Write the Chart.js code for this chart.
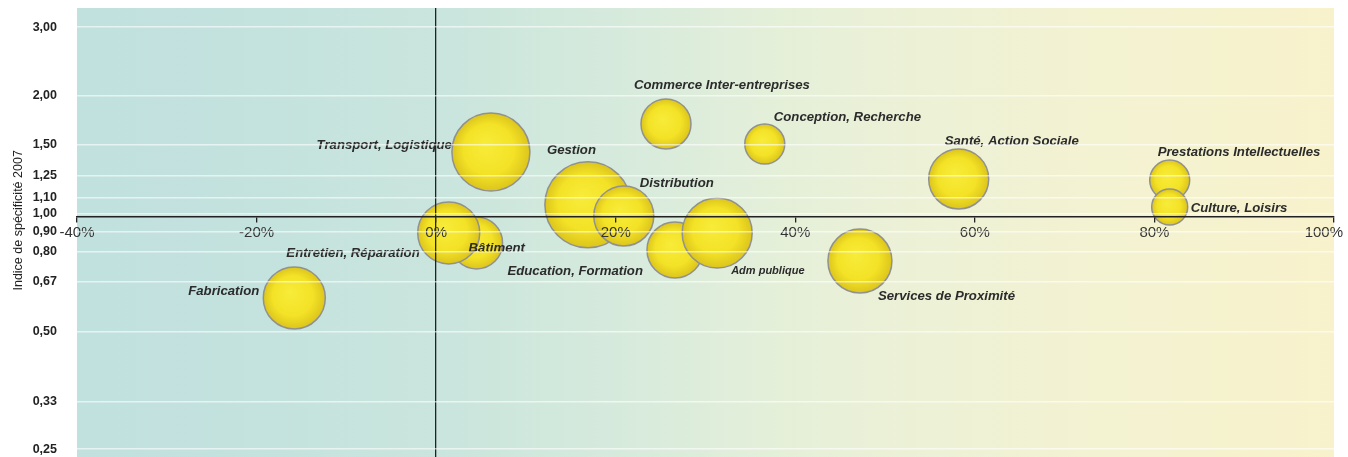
<!DOCTYPE html>
<html>
<head>
<meta charset="utf-8">
<script src="https://cdn.jsdelivr.net/npm/chart.js@4/dist/chart.umd.min.js"></script>
<style>
  html, body { margin: 0; padding: 0; background: #ffffff; }
  #wrap { position: relative; width: 1348px; height: 457px; }
</style>
</head>
<body>
<div id="wrap"><canvas id="c"></canvas></div>
<script>
// ---- data ----
const sectors = [
  "Bâtiment", "Entretien, Réparation", "Fabrication", "Transport, Logistique",
  "Gestion", "Distribution", "Education, Formation", "Adm publique",
  "Commerce Inter-entreprises", "Conception, Recherche", "Services de Proximité",
  "Santé, Action Sociale", "Prestations Intellectuelles", "Culture, Loisirs"
];
const evolution = [4.5, 1.4, -15.8, 6.1, 16.9, 20.9, 26.6, 31.3, 25.6, 36.6, 47.2, 58.2, 81.7, 81.7];
const specificity = [0.842, 0.893, 0.609, 1.438, 1.054, 0.987, 0.808, 0.893, 1.696, 1.507, 0.757, 1.227, 1.219, 1.040];
const bubbleSize = [26, 31, 31, 39, 43, 30, 28, 35, 25, 20, 32, 30, 20, 18];
const yTickValues = [0.25, 0.33, 0.5, 0.67, 0.8, 0.9, 1, 1.1, 1.25, 1.5, 2, 3];
const xTickValues = [-40, -20, 0, 20, 40, 60, 80, 100];
const yTitle = 'Indice de spécificité 2007';

// ---- label placement (relative to bubble centre) ----
const labelPlacement = [
  {dx: -8, dy: 5, align: 'left'},
  {dx: -29, dy: 20, align: 'right'},
  {dx: -35, dy: -7, align: 'right'},
  {dx: -39, dy: -7, align: 'right'},
  {dx: -41, dy: -54, align: 'left'},
  {dx: 16, dy: -33, align: 'left'},
  {dx: -32, dy: 21, align: 'right'},
  {dx: 14, dy: 38, align: 'left', small: true},
  {dx: -32, dy: -39, align: 'left'},
  {dx: 9, dy: -27, align: 'left'},
  {dx: 18, dy: 35, align: 'left'},
  {dx: -14, dy: -38, align: 'left'},
  {dx: -12, dy: -28, align: 'left'},
  {dx: 21, dy: 1, align: 'left'}
];

const SANS = '"Liberation Sans", Arial, sans-serif';

const bgPlugin = {
  id: 'bg',
  beforeDraw(chart) {
    const {ctx, chartArea: a} = chart;
    const g = ctx.createLinearGradient(a.left, 0, a.right, 0);
    g.addColorStop(0, '#c1e1de');
    g.addColorStop(0.12, '#c3e2de');
    g.addColorStop(0.3, '#cae5dd');
    g.addColorStop(0.45, '#d8ebdc');
    g.addColorStop(0.55, '#e4efd9');
    g.addColorStop(0.66, '#ecf1d6');
    g.addColorStop(0.8, '#f3f2d2');
    g.addColorStop(1, '#f8f2cc');
    ctx.save();
    ctx.fillStyle = g;
    ctx.fillRect(a.left, a.top, a.right - a.left, a.bottom - a.top);
    ctx.restore();
    // keep the last x tick label inside the canvas, as in the original
    const xs = chart.scales.x;
    const items = xs.getLabelItems(a);
    const last = items[items.length - 1];
    if (last && last.options && !last._shifted) {
      last.options.textAlign = 'right';
      last.options.translation[0] += 9;
      last._shifted = true;
    }
  }
};

const labelPlugin = {
  id: 'bubbleLabels',
  afterDatasetsDraw(chart) {
    const ctx = chart.ctx;
    const meta = chart.getDatasetMeta(0);
    ctx.save();
    ctx.fillStyle = '#2b2b2b';
    ctx.textBaseline = 'middle';
    meta.data.forEach((el, i) => {
      const p = labelPlacement[i];
      ctx.font = 'italic bold ' + (p.small ? 11 : 13.2) + 'px ' + SANS;
      ctx.textAlign = p.align;
      ctx.fillText(sectors[i], el.x + p.dx, el.y + p.dy);
    });
    ctx.restore();
  }
};

const points = evolution.map((x, i) => ({x: x, y: specificity[i], r: bubbleSize[i]}));

new Chart(document.getElementById('c'), {
  type: 'bubble',
  data: {
    datasets: [{
      data: points,
      borderColor: '#919190',
      borderWidth: 1.5,
      hoverRadius: 0,
      clip: false,
      backgroundColor: (c) => {
        const ch = c.chart;
        const xs = ch.scales && ch.scales.x, ys = ch.scales && ch.scales.y;
        if (!c.raw || !xs || !ys || !ch.chartArea) return '#f2e024';
        const cx = xs.getPixelForValue(c.raw.x);
        const cy = ys.getPixelForValue(c.raw.y);
        const r = c.raw.r;
        if (!isFinite(cx) || !isFinite(cy)) return '#f2e024';
        const g = ch.ctx.createRadialGradient(cx - r * 0.15, cy - r * 0.2, 0, cx, cy, r);
        g.addColorStop(0, '#f8ec3a');
        g.addColorStop(0.65, '#f3e226');
        g.addColorStop(1, '#dcc51c');
        return g;
      }
    }]
  },
  options: {
    responsive: true,
    maintainAspectRatio: false,
    animation: false,
    events: [],
    layout: { autoPadding: false, padding: { top: 8, right: 14, bottom: 0, left: 0 } },
    plugins: { legend: { display: false }, tooltip: { enabled: false } },
    scales: {
      x: {
        type: 'linear',
        position: { y: 0.98 },
        min: -40,
        max: 100,
        afterBuildTicks: (s) => { s.ticks = xTickValues.map(v => ({value: v})); },
        afterFit: (s) => { s.paddingLeft = 0; s.paddingRight = 0; },
        ticks: {
          callback: (v) => v + '%',
          font: { family: SANS, size: 15 },
          color: '#333',
          padding: 2,
          maxRotation: 0,
          autoSkip: false,
          z: 1
        },
        grid: {
          drawOnChartArea: true,
          color: (c) => (c.tick && c.tick.value === 0) ? '#222' : 'rgba(0,0,0,0)',
          lineWidth: 1.3,
          tickColor: '#222',
          tickLength: 5,
          z: 1
        },
        border: { display: true, color: '#222', width: 1.5, z: 1 }
      },
      y: {
        type: 'logarithmic',
        position: 'left',
        min: 0.2388,
        max: 3.356,
        afterBuildTicks: (s) => { s.ticks = yTickValues.map(v => ({value: v})); },
        afterFit: (s) => { s.width = 77; s.paddingTop = 0; s.paddingBottom = 0; },
        ticks: {
          callback: (v) => Number(v).toFixed(2).replace('.', ','),
          font: { family: SANS, size: 12.5, weight: 'bold' },
          color: '#222',
          padding: 20,
          autoSkip: false
        },
        grid: {
          color: 'rgba(255,255,255,0.6)',
          lineWidth: 1.5,
          drawTicks: false,
          z: 1
        },
        border: { display: false },
        title: {
          display: true,
          text: '       ' + yTitle,
          font: { family: SANS, size: 12.5 },
          color: '#222',
          padding: { top: 11, bottom: 0 }
        }
      }
    }
  },
  plugins: [bgPlugin, labelPlugin]
});
</script>
</body>
</html>
